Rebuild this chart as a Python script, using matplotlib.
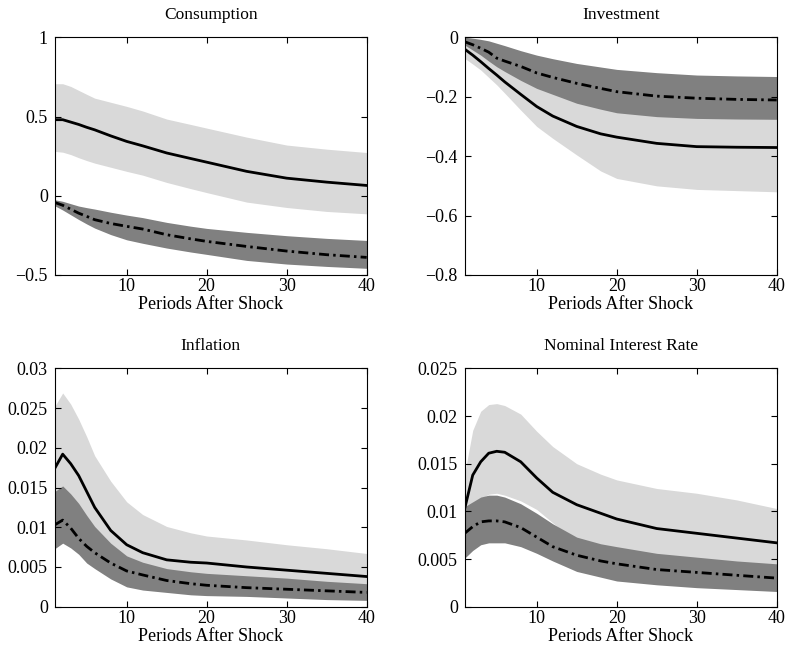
import matplotlib
matplotlib.use("Agg")
import matplotlib.pyplot as plt
from matplotlib.ticker import FuncFormatter

periods = [1, 2, 3, 4, 5, 6, 8, 10, 12, 15, 18, 20, 25, 30, 35, 40]

# Consumption
cons_solid = [0.48, 0.48, 0.465, 0.45, 0.432, 0.416, 0.378, 0.343, 0.315, 0.27, 0.235, 0.212, 0.154, 0.111, 0.086, 0.065]
cons_light_hi = [0.707, 0.707, 0.69, 0.665, 0.64, 0.616, 0.59, 0.564, 0.535, 0.484, 0.45, 0.427, 0.37, 0.32, 0.294, 0.273]
cons_light_lo = [0.28, 0.275, 0.26, 0.24, 0.222, 0.206, 0.18, 0.154, 0.13, 0.084, 0.045, 0.02, -0.04, -0.074, -0.099, -0.114]
cons_dash = [-0.042, -0.06, -0.085, -0.11, -0.13, -0.151, -0.175, -0.193, -0.21, -0.246, -0.272, -0.288, -0.32, -0.349, -0.372, -0.389]
cons_dark_hi = [-0.025, -0.035, -0.05, -0.065, -0.075, -0.084, -0.104, -0.122, -0.138, -0.168, -0.192, -0.206, -0.231, -0.252, -0.269, -0.282]
cons_dark_lo = [-0.063, -0.09, -0.12, -0.15, -0.178, -0.204, -0.245, -0.278, -0.30, -0.33, -0.355, -0.37, -0.408, -0.431, -0.446, -0.458]

# Investment
inv_solid = [-0.04, -0.06, -0.082, -0.105, -0.127, -0.15, -0.192, -0.233, -0.265, -0.30, -0.325, -0.336, -0.357, -0.368, -0.37, -0.371]
inv_light_hi = [-0.02, -0.03, -0.045, -0.06, -0.075, -0.09, -0.11, -0.13, -0.15, -0.17, -0.19, -0.2, -0.21, -0.22, -0.22, -0.22]
inv_light_lo = [-0.071, -0.09, -0.11, -0.135, -0.16, -0.188, -0.245, -0.30, -0.34, -0.396, -0.45, -0.475, -0.50, -0.512, -0.516, -0.52]
inv_dash = [-0.015, -0.025, -0.037, -0.05, -0.07, -0.08, -0.098, -0.12, -0.135, -0.155, -0.172, -0.183, -0.198, -0.205, -0.209, -0.211]
inv_dark_hi = [0.0, -0.003, -0.007, -0.012, -0.02, -0.028, -0.045, -0.06, -0.072, -0.088, -0.1, -0.108, -0.119, -0.127, -0.13, -0.132]
inv_dark_lo = [-0.026, -0.043, -0.06, -0.08, -0.099, -0.115, -0.145, -0.172, -0.192, -0.222, -0.242, -0.254, -0.267, -0.273, -0.275, -0.276]

# Inflation
inf_solid = [0.0174, 0.0192, 0.0180, 0.0165, 0.0145, 0.0125, 0.0096, 0.0078, 0.0068, 0.0059, 0.0056, 0.0055, 0.0050, 0.0046, 0.0042, 0.0038]
inf_light_hi = [0.0252, 0.0269, 0.0255, 0.0236, 0.0214, 0.0190, 0.0158, 0.0132, 0.0116, 0.0101, 0.0093, 0.0089, 0.0084, 0.0078, 0.0073, 0.0067]
inf_light_lo = [0.0090, 0.0095, 0.0090, 0.0082, 0.0072, 0.0063, 0.0048, 0.0040, 0.0035, 0.0030, 0.0028, 0.0027, 0.0025, 0.0023, 0.0021, 0.0020]
inf_dash = [0.0103, 0.0109, 0.0099, 0.0086, 0.0076, 0.0068, 0.0055, 0.0045, 0.0040, 0.0033, 0.0029, 0.0027, 0.0024, 0.0022, 0.0020, 0.0018]
inf_dark_hi = [0.0145, 0.0152, 0.0142, 0.0130, 0.0115, 0.0101, 0.0080, 0.0064, 0.0056, 0.0048, 0.0044, 0.0042, 0.0039, 0.0036, 0.0032, 0.0029]
inf_dark_lo = [0.0073, 0.0080, 0.0074, 0.0066, 0.0055, 0.0048, 0.0035, 0.0025, 0.0021, 0.0018, 0.0015, 0.0014, 0.0013, 0.0011, 0.0009, 0.0008]

# Nominal interest rate
rate_solid = [0.0103, 0.0138, 0.0152, 0.0161, 0.0163, 0.0162, 0.0152, 0.0135, 0.0120, 0.0107, 0.0098, 0.0092, 0.0082, 0.0077, 0.0072, 0.0067]
rate_light_hi = [0.0140, 0.0185, 0.0205, 0.0212, 0.0213, 0.0211, 0.0202, 0.0184, 0.0168, 0.0150, 0.0139, 0.0133, 0.0124, 0.0119, 0.0112, 0.0103]
rate_light_lo = [0.0095, 0.0105, 0.0113, 0.0118, 0.0119, 0.0117, 0.0111, 0.0102, 0.0088, 0.0068, 0.0060, 0.0056, 0.0050, 0.0047, 0.0044, 0.0042]
rate_dash = [0.0077, 0.0084, 0.0089, 0.0090, 0.0090, 0.0089, 0.0083, 0.0073, 0.0063, 0.0054, 0.0048, 0.0045, 0.0039, 0.0036, 0.0033, 0.0030]
rate_dark_hi = [0.0105, 0.0110, 0.0115, 0.0117, 0.0117, 0.0115, 0.0108, 0.0098, 0.0087, 0.0073, 0.0066, 0.0063, 0.0056, 0.0052, 0.0048, 0.0045]
rate_dark_lo = [0.0051, 0.0059, 0.0065, 0.0067, 0.0067, 0.0067, 0.0063, 0.0056, 0.0048, 0.0037, 0.0031, 0.0027, 0.0023, 0.0020, 0.0018, 0.0016]

titles = ["Consumption", "Investment", "Inflation", "Nominal Interest Rate"]
x_ticks = [10, 20, 30, 40]
y_ticks = [
    [-0.5, 0, 0.5, 1],
    [-0.8, -0.6, -0.4, -0.2, 0],
    [0, 0.005, 0.01, 0.015, 0.02, 0.025, 0.03],
    [0, 0.005, 0.01, 0.015, 0.02, 0.025],
]

LIGHT = "#d9d9d9"
DARK = "#808080"
DASHDOT = (0, (3.6, 1.5, 0.9, 1.5))

plt.rcParams.update({
    "font.family": ["Liberation Serif", "DejaVu Serif"],
    "font.size": 13,
    "axes.linewidth": 0.8,
    "xtick.direction": "in",
    "ytick.direction": "in",
    "xtick.top": True,
    "ytick.right": True,
    "xtick.major.size": 4,
    "ytick.major.size": 4,
    "axes.unicode_minus": True,
})


def tick_fmt(v, _):
    s = f"{v:g}"
    return s.replace("-", "\u2212")


panels = [
    (cons_solid, cons_light_hi, cons_light_lo, cons_dash, cons_dark_hi, cons_dark_lo),
    (inv_solid, inv_light_hi, inv_light_lo, inv_dash, inv_dark_hi, inv_dark_lo),
    (inf_solid, inf_light_hi, inf_light_lo, inf_dash, inf_dark_hi, inf_dark_lo),
    (rate_solid, rate_light_hi, rate_light_lo, rate_dash, rate_dark_hi, rate_dark_lo),
]

# axes rectangles in figure fractions: [left, bottom, width, height]
rects = [
    [0.0695, 0.5776, 0.3964, 0.3651],
    [0.5905, 0.5776, 0.3964, 0.3651],
    [0.0695, 0.0680, 0.3964, 0.3662],
    [0.5905, 0.0680, 0.3964, 0.3662],
]

fig = plt.figure(figsize=(7.87, 6.51), dpi=100)

for i, (solid, l_hi, l_lo, dash, d_hi, d_lo) in enumerate(panels):
    ax = fig.add_axes(rects[i])
    ax.fill_between(periods, l_lo, l_hi, color=LIGHT, linewidth=0)
    ax.fill_between(periods, d_lo, d_hi, color=DARK, linewidth=0)
    ax.plot(periods, solid, color="black", linewidth=2.0)
    ax.plot(periods, dash, color="black", linewidth=2.0, linestyle=DASHDOT)

    ax.set_xlim(1, 40)
    ax.set_xticks(x_ticks)
    ax.set_yticks(y_ticks[i])
    ax.set_ylim(y_ticks[i][0], y_ticks[i][-1])
    ax.yaxis.set_major_formatter(FuncFormatter(tick_fmt))
    ax.tick_params(axis="x", labelsize=13, pad=2)
    ax.tick_params(axis="y", labelsize=13, pad=5)
    ax.set_title(titles[i], fontsize=12.5, pad=13)
    ax.set_xlabel("Periods After Shock", fontsize=13, labelpad=1)

fig.savefig("out.png", dpi=100)
